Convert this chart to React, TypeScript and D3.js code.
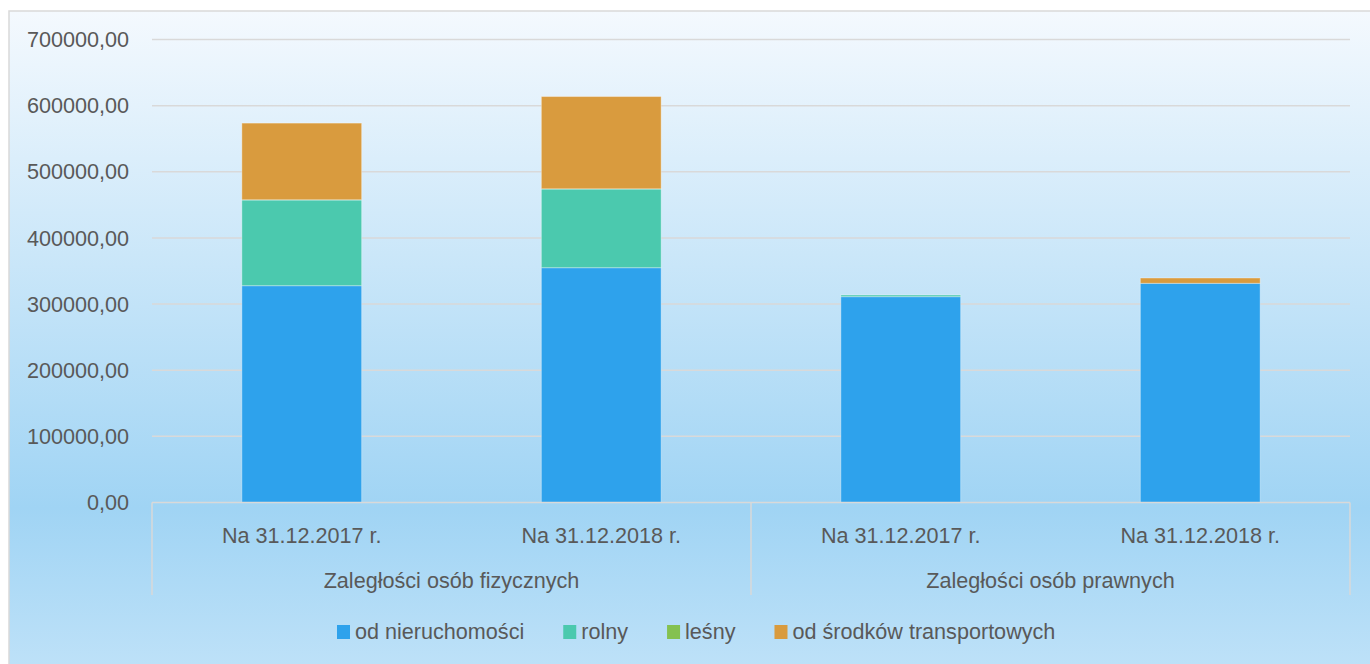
import { useEffect, useRef } from "react";
import * as d3 from "d3";

// data
const groups = ["Zaległości osób fizycznych", "Zaległości osób prawnych"];
const periods = ["Na 31.12.2017 r.", "Na 31.12.2018 r."];
const seriesNames = ["od nieruchomości", "rolny", "leśny", "od środków transportowych"];
const nieruchomosci = [327800, 355000, 311200, 331400];
const rolny = [129600, 119000, 2500, 0];
const lesny = [300, 250, 0, 0];
const transport = [115900, 139500, 0, 8000];
const yTicks = [0, 100000, 200000, 300000, 400000, 500000, 600000, 700000];

const colors = ["#2ea2ec", "#4bc9ae", "#84c150", "#d99b3e"];

const App = () => {
  const ref = useRef<SVGSVGElement>(null);

  useEffect(() => {
    if (!ref.current) return;
    const svg = d3.select(ref.current);
    svg.selectAll("*").remove();

    const font = "'Liberation Sans', Arial, sans-serif";
    const textColor = "#595959";
    const lineColor = "#d9d9d9";

    // background gradient
    const defs = svg.append("defs");
    const grad = defs
      .append("linearGradient")
      .attr("id", "bg")
      .attr("x1", 0)
      .attr("y1", 0)
      .attr("x2", 0)
      .attr("y2", 1);
    grad.append("stop").attr("offset", 0).attr("stop-color", "#f4f9fe");
    grad.append("stop").attr("offset", 0.72).attr("stop-color", "#a0d4f4");
    grad.append("stop").attr("offset", 1).attr("stop-color", "#c4e4f9");

    svg.append("rect").attr("width", 1370).attr("height", 664).attr("fill", "#fff");
    svg
      .append("rect")
      .attr("x", 9)
      .attr("y", 11)
      .attr("width", 1420)
      .attr("height", 690)
      .attr("fill", "url(#bg)")
      .attr("stroke", lineColor)
      .attr("stroke-width", 1.5);

    const left = 152;
    const right = 1350;
    const y = d3.scaleLinear().domain([0, 700000]).range([502.5, 39.5]);

    const cats = groups.flatMap((g, gi) => periods.map((p, pi) => `${gi}|${pi}`));
    const x = d3
      .scaleBand<string>()
      .domain(cats)
      .range([left, right])
      .paddingInner(0.6)
      .paddingOuter(0.3);

    // gridlines
    svg
      .append("g")
      .selectAll("line")
      .data(yTicks.filter((t) => t > 0))
      .join("line")
      .attr("x1", left)
      .attr("x2", right)
      .attr("y1", (d) => y(d))
      .attr("y2", (d) => y(d))
      .attr("stroke", lineColor)
      .attr("stroke-width", 1.5);

    // y labels
    const fmt = (v: number) => d3.format(".2f")(v).replace(".", ",");
    svg
      .append("g")
      .selectAll("text")
      .data(yTicks)
      .join("text")
      .attr("x", 129)
      .attr("y", (d) => y(d) + 7.7)
      .attr("text-anchor", "end")
      .attr("font-family", font)
      .attr("font-size", 21.6)
      .attr("fill", textColor)
      .text((d) => fmt(d));

    // stacked bars
    const rows = cats.map((c, i) => ({
      key: c,
      [seriesNames[0]]: nieruchomosci[i],
      [seriesNames[1]]: rolny[i],
      [seriesNames[2]]: lesny[i],
      [seriesNames[3]]: transport[i],
    }));
    const stacked = d3.stack<any>().keys(seriesNames)(rows);

    stacked.forEach((layer, li) => {
      svg
        .append("g")
        .selectAll("rect")
        .data(layer)
        .join("rect")
        .attr("x", (d) => x(d.data.key)!)
        .attr("width", x.bandwidth())
        .attr("y", (d) => y(d[1]))
        .attr("height", (d) => Math.max(0, y(d[0]) - y(d[1])))
        .attr("fill", colors[li])
        .attr("stroke", "rgba(255,255,255,0.35)")
        .attr("stroke-width", (d) => (d[1] - d[0] > 0 ? 1 : 0));
    });

    // category axis
    const axisY = y(0);
    const step = x.step();
    svg
      .append("line")
      .attr("x1", left)
      .attr("x2", right)
      .attr("y1", axisY)
      .attr("y2", axisY)
      .attr("stroke", lineColor)
      .attr("stroke-width", 1.5);
    [0, 1, 2].forEach((i) => {
      const xx = left + ((right - left) / 2) * i;
      svg
        .append("line")
        .attr("x1", xx)
        .attr("x2", xx)
        .attr("y1", axisY)
        .attr("y2", 595)
        .attr("stroke", lineColor)
        .attr("stroke-width", 1.5);
    });

    svg
      .append("g")
      .selectAll("text")
      .data(cats)
      .join("text")
      .attr("x", (d) => x(d)! + x.bandwidth() / 2)
      .attr("y", 543)
      .attr("text-anchor", "middle")
      .attr("font-family", font)
      .attr("font-size", 21.6)
      .attr("fill", textColor)
      .text((d) => periods[+d.split("|")[1]]);

    svg
      .append("g")
      .selectAll("text")
      .data(groups)
      .join("text")
      .attr("x", (d, i) => left + step * 2 * i + step)
      .attr("y", 588)
      .attr("text-anchor", "middle")
      .attr("font-family", font)
      .attr("font-size", 21.6)
      .attr("fill", textColor)
      .text((d) => d);

    // legend
    const legend = svg.append("g");
    const items = seriesNames.map((name, i) => {
      const g = legend.append("g");
      g.append("rect")
        .attr("x", 0)
        .attr("y", -14)
        .attr("width", 13)
        .attr("height", 14)
        .attr("fill", colors[i]);
      const t = g
        .append("text")
        .attr("x", 18)
        .attr("y", 0)
        .attr("font-family", font)
        .attr("font-size", 21.6)
        .attr("fill", textColor)
        .text(name);
      const w = 18 + (t.node() as SVGTextElement).getComputedTextLength();
      return { g, w };
    });
    const gap = 39;
    let cx = 337;
    items.forEach((it) => {
      it.g.attr("transform", `translate(${cx},639)`);
      cx += it.w + gap;
    });
  }, []);

  return (
    <svg
      ref={ref}
      width={1370}
      height={664}
      style={{ position: "absolute", left: 0, top: 0 }}
    />
  );
};

export default App;
